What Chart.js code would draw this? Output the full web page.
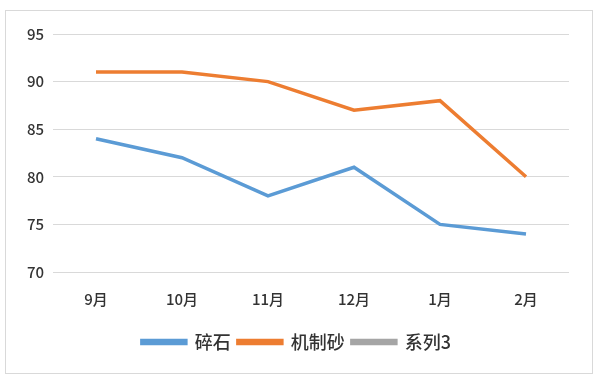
<!DOCTYPE html>
<html>
<head>
<meta charset="utf-8">
<script src="https://cdn.jsdelivr.net/npm/chart.js@4"></script>
<style>
  html, body { margin: 0; padding: 0; background: #fff; }
  #wrap { width: 600px; height: 379px; position: relative; }
</style>
</head>
<body>
<div id="wrap"><canvas id="c" width="600" height="379"></canvas></div>
<script>
const categories = ['9月', '10月', '11月', '12月', '1月', '2月'];
const suishi = [84, 82, 78, 81, 75, 74];
const jizhisha = [91, 91, 90, 87, 88, 80];
const series3 = [];
const seriesNames = ['碎石', '机制砂', '系列3'];
const yTicks = [70, 75, 80, 85, 90, 95];

const FONT = '"Noto Sans CJK SC", "Noto Sans", sans-serif';

const borderPlugin = {
  id: 'outerBorder',
  beforeDraw(chart) {
    const ctx = chart.ctx;
    ctx.save();
    ctx.fillStyle = '#fff';
    ctx.fillRect(0, 0, chart.width, chart.height);
    ctx.strokeStyle = '#d9d9d9';
    ctx.lineWidth = 1;
    ctx.strokeRect(5.5, 10.5, 587, 363);
    ctx.restore();
  },
  afterLayout(chart) {
    const l = chart.legend;
    if (l && !l._shifted) {
      const orig = l.draw.bind(l);
      l.draw = function (a) {
        const ctx = chart.ctx;
        ctx.save();
        ctx.translate(12, 0);
        orig(a);
        ctx.restore();
      };
      l._shifted = true;
    }
  }
};

new Chart(document.getElementById('c'), {
  type: 'line',
  data: {
    labels: categories,
    datasets: [
      { label: seriesNames[0], data: suishi, borderColor: '#5B9BD5', backgroundColor: '#5B9BD5', borderWidth: 3.5, pointRadius: 0, tension: 0 },
      { label: seriesNames[1], data: jizhisha, borderColor: '#ED7D31', backgroundColor: '#ED7D31', borderWidth: 3.5, pointRadius: 0, tension: 0 },
      { label: seriesNames[2], data: series3, borderColor: '#A5A5A5', backgroundColor: '#A5A5A5', borderWidth: 3.5, pointRadius: 0, tension: 0 }
    ]
  },
  options: {
    responsive: false,
    animation: false,
    layout: { padding: { left: 0, right: 31, top: 34, bottom: 18 } },
    plugins: {
      tooltip: { enabled: false },
      legend: {
        position: 'bottom',
        labels: {
          boxWidth: 44,
          boxHeight: 3,
          padding: 7,
          color: '#333333',
          font: { family: FONT, size: 18, weight: '500' }
        }
      }
    },
    scales: {
      x: {
        offset: true,
        afterFit(scale) { scale.height += 0; },
        grid: { display: false, drawTicks: false },
        border: { display: false },
        ticks: { color: '#333333', font: { family: FONT, size: 15, weight: '500' }, padding: 18, maxRotation: 0 }
      },
      y: {
        min: 70, max: 95,
        afterBuildTicks(scale) { scale.ticks = yTicks.map(v => ({ value: v })); },
        afterFit(scale) { scale.width = 53; },
        grid: { color: '#d9d9d9', lineWidth: 1, drawTicks: false },
        border: { display: false },
        ticks: { color: '#333333', font: { family: FONT, size: 15, weight: '500' }, padding: 9 }
      }
    }
  },
  plugins: [borderPlugin]
});
</script>
</body>
</html>
